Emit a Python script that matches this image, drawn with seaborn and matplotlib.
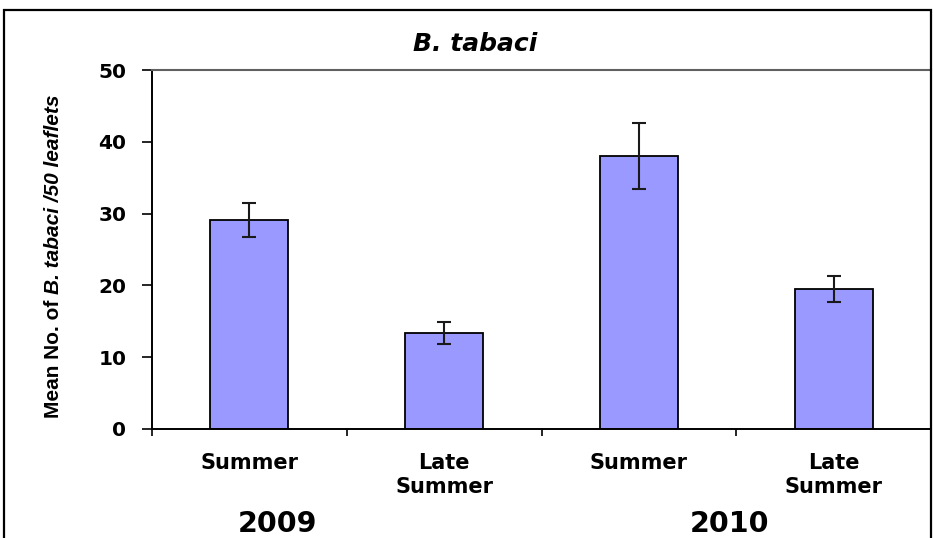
import matplotlib
matplotlib.use("Agg")
import matplotlib.pyplot as plt
import seaborn as sns
import pandas as pd
from matplotlib.patches import Rectangle

# ---- data ----
keys = ["Summer 2009", "Late Summer 2009", "Summer 2010", "Late Summer 2010"]
tick_labels = ["Summer", "Late\nSummer", "Summer", "Late\nSummer"]
means = [29.1, 13.4, 38.0, 19.5]
errors = [2.4, 1.5, 4.6, 1.8]
years = ["2009", "2010"]
yticks = [0, 10, 20, 30, 40, 50]
title = "B. tabaci"
ylabel_plain = "Mean No. of "
ylabel_italic = "B. tabaci /50 leaflets"

sns.set_style("white")
plt.rcParams["font.family"] = ["DejaVu Sans"]
plt.rcParams["font.weight"] = "bold"
plt.rcParams["text.color"] = "black"
plt.rcParams["xtick.color"] = "black"
plt.rcParams["ytick.color"] = "black"

df = pd.DataFrame({"key": keys, "mean": means})

W, H = 933, 538
fig = plt.figure(figsize=(W / 100, H / 100), dpi=100)
ax = fig.add_axes([152 / W, 1 - 429 / H, (931 - 152) / W, (429 - 70) / H])

sns.barplot(data=df, x="key", y="mean", order=keys, color="#9999FF",
            saturation=1, width=0.4, edgecolor="black", linewidth=1.3,
            errorbar=None, ax=ax)
ax.errorbar(range(len(keys)), means, yerr=errors, fmt="none",
            ecolor="#1a1a1a", elinewidth=1.5, capsize=5, capthick=1.5)

ax.set_xlim(-0.5, len(keys) - 0.5)
ax.set_ylim(0, 50)
ax.set_yticks(yticks)
ax.set_yticklabels([str(v) for v in yticks], fontsize=14.5, fontweight="bold")
ax.tick_params(axis="y", direction="out", length=7.5, width=1.2, pad=11, left=True)

ax.set_xticks(range(len(keys)))
ax.set_xticklabels(tick_labels, fontsize=15, fontweight="bold", linespacing=1.3)
ax.tick_params(axis="x", which="major", length=0, pad=17)
ax.set_xticks([i + 0.5 for i in range(-1, len(keys))], minor=True)
ax.tick_params(axis="x", which="minor", direction="out", length=5, width=1.2, bottom=True)

ax.set_xlabel("")
ax.set_ylabel("")
for s in ["left", "bottom"]:
    ax.spines[s].set_color("black")
    ax.spines[s].set_linewidth(1.4)
ax.spines["top"].set_color("#606060")
ax.spines["top"].set_linewidth(1.5)
ax.spines["right"].set_visible(False)

# title
fig.text(475.5 / W, 1 - 51 / H, title, ha="center", va="baseline",
         fontsize=18, fontweight="bold", fontstyle="italic")

# y label: plain part + italic part, stacked along the vertical
renderer = fig.canvas.get_renderer()
lab_font = dict(family="Liberation Sans", fontsize=15, fontweight="bold")
t1 = fig.text(63 / W, 0, ylabel_plain, rotation=90, ha="right", va="bottom", **lab_font)
t2 = fig.text(63 / W, 0, ylabel_italic, rotation=90, ha="right", va="bottom",
              fontstyle="italic", **lab_font)
L1 = t1.get_window_extent(renderer).height
L2 = t2.get_window_extent(renderer).height
ybot = (H - 256) - (L1 + L2) / 2
t1.set_y(ybot / H)
t2.set_y((ybot + L1) / H)

# year labels
fig.text(277 / W, 1 - 531.5 / H, years[0], ha="center", va="baseline", fontsize=20.5, fontweight="bold")
fig.text(729 / W, 1 - 531.5 / H, years[1], ha="center", va="baseline", fontsize=20.5, fontweight="bold")

# outer frame
fig.patches.append(Rectangle((4 / W, -0.05), (931 - 4) / W, 1.05 - 10 / H,
                             transform=fig.transFigure, fill=False,
                             edgecolor="black", linewidth=1.6))

fig.savefig("out.png", dpi=100)
